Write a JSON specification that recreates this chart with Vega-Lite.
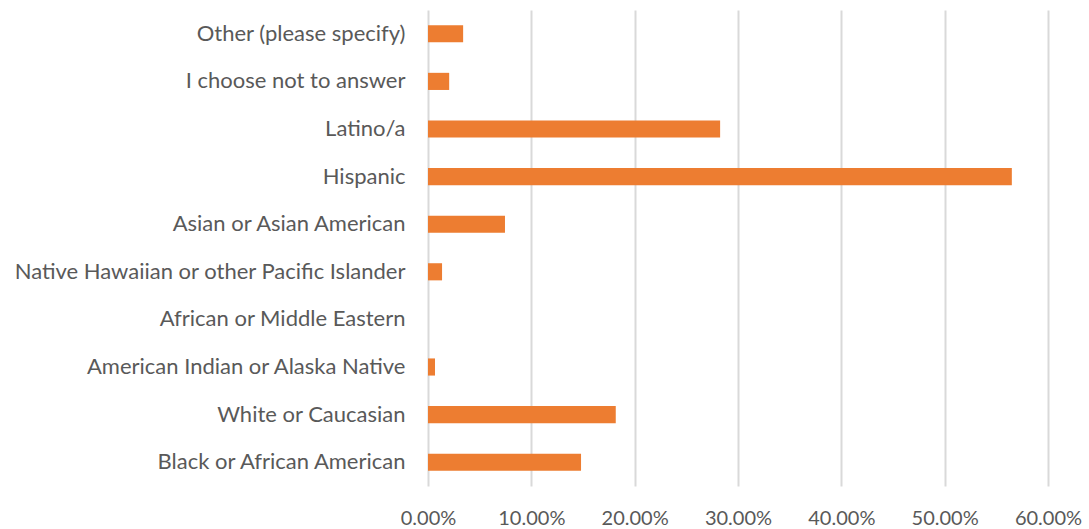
{
  "$schema": "https://vega.github.io/schema/vega-lite/v6.json",
  "autosize": {"type": "none"},
  "padding": {"left": 428, "top": 10, "right": 41, "bottom": 43},
  "width": 620,
  "height": 476,
  "background": "white",
  "config": {"view": {"stroke": null}},
  "data": {
    "values": [
      {"category": "Other (please specify)", "pct": 0.034},
      {"category": "I choose not to answer", "pct": 0.0205},
      {"category": "Latino/a", "pct": 0.2827},
      {"category": "Hispanic", "pct": 0.565},
      {"category": "Asian or Asian American", "pct": 0.0745},
      {"category": "Native Hawaiian or other Pacific Islander", "pct": 0.0136},
      {"category": "African or Middle Eastern", "pct": 0},
      {"category": "American Indian or Alaska Native", "pct": 0.0068},
      {"category": "White or Caucasian", "pct": 0.1817},
      {"category": "Black or African American", "pct": 0.1481}
    ]
  },
  "mark": {"type": "bar", "color": "#ED7D31"},
  "encoding": {
    "y": {
      "field": "category",
      "type": "nominal",
      "sort": null,
      "title": null,
      "scale": {"paddingInner": 0.64, "paddingOuter": 0.32},
      "axis": {
        "domain": false,
        "ticks": false,
        "grid": false,
        "labelFont": "Lato",
        "labelFontSize": 22,
        "labelColor": "#595959",
        "labelPadding": 23,
        "labelLimit": 500
      }
    },
    "x": {
      "field": "pct",
      "type": "quantitative",
      "title": null,
      "scale": {"domain": [0, 0.6], "nice": false},
      "axis": {
        "format": ".2%",
        "values": [0, 0.1, 0.2, 0.3, 0.4, 0.5, 0.6],
        "domain": false,
        "ticks": false,
        "grid": true,
        "gridColor": "#D9D9D9",
        "gridWidth": 2,
        "labelFont": "Lato",
        "labelFontSize": 20,
        "labelColor": "#595959",
        "labelPadding": 22,
        "labelFlush": false
      }
    }
  }
}
